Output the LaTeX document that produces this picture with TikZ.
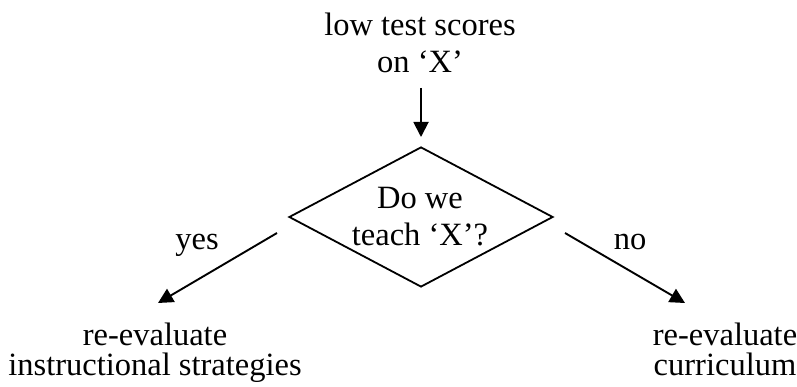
\documentclass[tikz,border=0pt]{standalone}
\usepackage{fontspec}
\setmainfont{Liberation Serif}
\usetikzlibrary{arrows.meta,shapes.geometric}
\begin{document}
\begin{tikzpicture}[x=1pt,y=-1pt,
  txt/.style={inner sep=0pt, align=center, font=\fontsize{32.5}{37}\selectfont},
  decision/.style={diamond, draw, line width=1.8pt, inner sep=0pt,
    minimum width=264pt, minimum height=140pt},
  arr/.style={line width=1.9pt, -{Triangle[length=15pt,width=15pt]}}]
  \useasboundingbox (0,0) rectangle (797,387);
  % start condition
  \node[txt, anchor=base] (src) at (420,72.5) {low test scores\\on ‘X’};
  % decision
  \node[decision] (dia) at (421,217) {};
  \node[txt, font=\fontsize{32.5}{36}\selectfont, anchor=base] (q) at (420,245) {Do we\\teach ‘X’?};
  % outcomes
  \node[txt, font=\fontsize{32.5}{30}\selectfont, anchor=base] (yesout) at (155,375) {re-evaluate\\instructional strategies};
  \node[txt, font=\fontsize{32.5}{30}\selectfont, anchor=base] (noout) at (725,375) {re-evaluate\\curriculum};
  % branch labels
  \node[txt, anchor=base] (yes) at (197,249) {yes};
  \node[txt, anchor=base] (no) at (630,249) {no};
  % connector end points
  \coordinate (inS) at (421,88);
  \coordinate (inE) at (421,137);
  \coordinate (yS) at (277,233);
  \coordinate (yE) at (158,303);
  \coordinate (nS) at (565,233);
  \coordinate (nE) at (685,303);
  \draw[arr] (inS) -- (inE);
  \draw[arr] (yS) -- (yE);
  \draw[arr] (nS) -- (nE);
\end{tikzpicture}
\end{document}
